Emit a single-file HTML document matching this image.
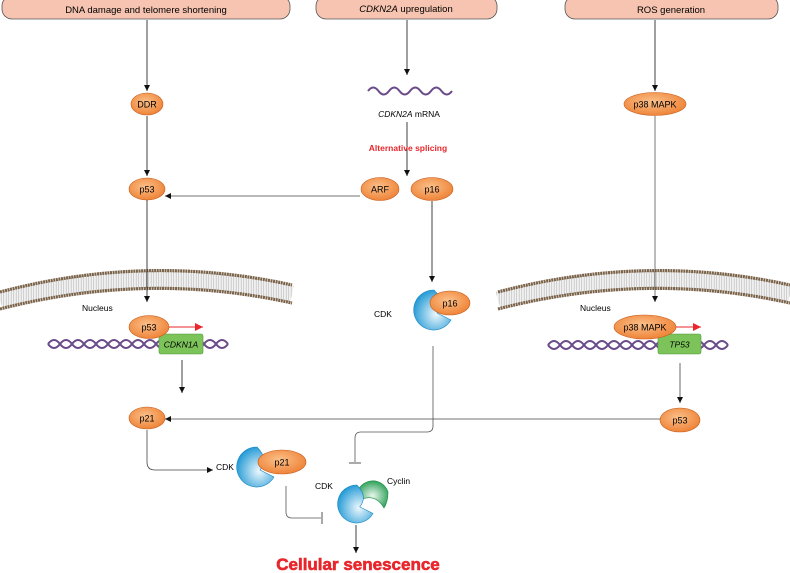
<!DOCTYPE html>
<html><head><meta charset="utf-8"><style>
html,body{margin:0;padding:0;background:#fff;}
svg{display:block;font-family:"Liberation Sans",Arial,sans-serif;}
</style></head><body>
<svg width="790" height="573" viewBox="0 0 790 573" xmlns="http://www.w3.org/2000/svg">
<defs>
<radialGradient id="og" cx="0.45" cy="0.4" r="0.7"><stop offset="0" stop-color="#fbc08a"/><stop offset="1" stop-color="#ec7a2a"/></radialGradient>
<radialGradient id="bg" cx="0.6" cy="0.6" r="0.65"><stop offset="0" stop-color="#eef8fd"/><stop offset="1" stop-color="#1b96d4"/></radialGradient>
<radialGradient id="gg" cx="0.5" cy="0.55" r="0.6"><stop offset="0" stop-color="#eaf7ee"/><stop offset="1" stop-color="#1f9a4c"/></radialGradient>
<marker id="ar" markerWidth="8" markerHeight="8" refX="6" refY="3" orient="auto" markerUnits="userSpaceOnUse"><path d="M0,0 L6,3 L0,6 Z" fill="#111"/></marker>
<marker id="rr" markerWidth="10" markerHeight="10" refX="8" refY="4" orient="auto" markerUnits="userSpaceOnUse"><path d="M0,0 L8,4 L0,8 Z" fill="#e8262b"/></marker>
<pattern id="lip" width="2.5" height="20" patternUnits="userSpaceOnUse"><rect width="2.5" height="20" fill="#f2f2f2"/><line x1="1.2" y1="0" x2="1.2" y2="20" stroke="#bdbdbd" stroke-width="0.7"/></pattern>
<g id="cdk"><path d="M5,3 L19,10 A20,20 0 1 1 2,-20 Q14,-8 5,3 Z" fill="url(#bg)" stroke="#1585c0" stroke-width="0.6"/></g>
<g id="helix"><path d="M0,0 q6,-8 12,0 t12,0 t12,0 t12,0 t12,0 t12,0 t12,0 t12,0 t12,0 t12,0 t12,0 t12,0 t12,0 t12,0 t12,0" fill="none" stroke="#6b4b8a" stroke-width="2"/><path d="M0,0 q6,8 12,0 t12,0 t12,0 t12,0 t12,0 t12,0 t12,0 t12,0 t12,0 t12,0 t12,0 t12,0 t12,0 t12,0 t12,0" fill="none" stroke="#6b4b8a" stroke-width="2"/></g>
</defs>

<!-- top boxes -->
<rect x="2" y="-4" width="288" height="23" rx="10" fill="#f6c4b0" stroke="#555" stroke-width="0.8"/>
<text x="146" y="13" font-size="9.5" text-anchor="middle">DNA damage and telomere shortening</text>
<rect x="316" y="-4" width="181" height="23" rx="10" fill="#f6c4b0" stroke="#555" stroke-width="0.8"/>
<text x="406" y="12" font-size="9.5" text-anchor="middle"><tspan font-style="italic">CDKN2A</tspan> upregulation</text>
<rect x="565" y="-4" width="213" height="23" rx="10" fill="#f6c4b0" stroke="#555" stroke-width="0.8"/>
<text x="671" y="13" font-size="9.5" text-anchor="middle">ROS generation</text>

<!-- membranes -->
<g id="mem">
<path d="M0,300 Q147,262 292,294" fill="none" stroke="url(#lip)" stroke-width="17"/>
<path d="M0,292 Q147,253 292,285" fill="none" stroke="#7a6248" stroke-width="3.2" stroke-dasharray="2 0.6"/>
<path d="M0,309 Q147,271 292,303" fill="none" stroke="#7a6248" stroke-width="3.2" stroke-dasharray="2 0.6"/>
</g>
<use href="#mem" transform="translate(498,0)"/>
<text x="82" y="311" font-size="8.5">Nucleus</text>
<text x="580" y="311" font-size="8.5">Nucleus</text>

<!-- left column -->
<line x1="147" y1="20" x2="147" y2="91" stroke="#111" stroke-width="0.8" marker-end="url(#ar)"/>
<ellipse cx="147" cy="104" rx="16" ry="11" fill="url(#og)" stroke="#c85a1a" stroke-width="0.6"/>
<text x="147" y="107.5" font-size="9" text-anchor="middle">DDR</text>
<line x1="147" y1="116" x2="147" y2="176" stroke="#111" stroke-width="0.8" marker-end="url(#ar)"/>
<ellipse cx="147" cy="189" rx="18" ry="11" fill="url(#og)" stroke="#c85a1a" stroke-width="0.6"/>
<text x="147" y="192.5" font-size="9" text-anchor="middle">p53</text>
<line x1="147" y1="200" x2="147" y2="302" stroke="#111" stroke-width="0.8" marker-end="url(#ar)"/>
<use href="#helix" transform="translate(48,344)"/>
<rect x="159" y="334" width="44" height="20" rx="2" fill="#7cc35a" stroke="#4e9a3a" stroke-width="0.6"/>
<text x="181" y="347.5" font-size="8.5" font-style="italic" text-anchor="middle">CDKN1A</text>
<ellipse cx="149" cy="327" rx="20" ry="11.5" fill="url(#og)" stroke="#c85a1a" stroke-width="0.6"/>
<text x="149" y="330.5" font-size="9" text-anchor="middle">p53</text>
<line x1="169" y1="327" x2="203" y2="327" stroke="#e8262b" stroke-width="1" marker-end="url(#rr)"/>
<line x1="182" y1="360" x2="182" y2="393" stroke="#111" stroke-width="0.8" marker-end="url(#ar)"/>
<ellipse cx="147" cy="418" rx="18" ry="11" fill="url(#og)" stroke="#c85a1a" stroke-width="0.6"/>
<text x="147" y="421.5" font-size="9" text-anchor="middle">p21</text>
<path d="M147,430 L147,462 Q147,470 155,470 L213,470" fill="none" stroke="#444" stroke-width="0.8" marker-end="url(#ar)"/>
<text x="216" y="470" font-size="8.5">CDK</text>
<use href="#cdk" transform="translate(255,467)"/>
<ellipse cx="282" cy="462" rx="24" ry="12" fill="url(#og)" stroke="#c85a1a" stroke-width="0.6"/>
<text x="282" y="465.5" font-size="9" text-anchor="middle">p21</text>
<path d="M286,486 L286,512 Q286,518 292,518 L321,518" fill="none" stroke="#555" stroke-width="0.8"/>
<line x1="322" y1="512" x2="322" y2="524" stroke="#555" stroke-width="1"/>

<!-- center column -->
<line x1="407" y1="20" x2="407" y2="75" stroke="#111" stroke-width="0.8" marker-end="url(#ar)"/>
<path d="M368,91 q5.25,-7 10.5,0 t10.5,0 t10.5,0 t10.5,0 t10.5,0 t10.5,0 t10.5,0 t10.5,0" fill="none" stroke="#6b4b8a" stroke-width="2"/>
<text x="409" y="117" font-size="8.5" text-anchor="middle"><tspan font-style="italic">CDKN2A</tspan> mRNA</text>
<line x1="407" y1="122" x2="407" y2="176" stroke="#111" stroke-width="0.8" marker-end="url(#ar)"/>
<text x="408" y="151" font-size="8.5" font-weight="bold" fill="#e8262b" text-anchor="middle">Alternative splicing</text>
<ellipse cx="380" cy="189" rx="19" ry="11.5" fill="url(#og)" stroke="#c85a1a" stroke-width="0.6"/>
<text x="380" y="192.5" font-size="9" text-anchor="middle">ARF</text>
<ellipse cx="432" cy="189" rx="21" ry="11.5" fill="url(#og)" stroke="#c85a1a" stroke-width="0.6"/>
<text x="432" y="192.5" font-size="9" text-anchor="middle">p16</text>
<line x1="360" y1="196" x2="165" y2="196" stroke="#444" stroke-width="0.8" marker-end="url(#ar)"/>
<line x1="432" y1="201" x2="432" y2="282" stroke="#111" stroke-width="0.8" marker-end="url(#ar)"/>
<text x="374" y="317" font-size="8.5">CDK</text>
<use href="#cdk" transform="translate(432,310)"/>
<ellipse cx="450" cy="303" rx="20" ry="12" fill="url(#og)" stroke="#c85a1a" stroke-width="0.6"/>
<text x="450" y="306.5" font-size="9" text-anchor="middle">p16</text>
<path d="M433,346 L433,426 Q433,432 427,432 L361,432 Q355,432 355,438 L355,462" fill="none" stroke="#555" stroke-width="0.8"/>
<line x1="349" y1="463" x2="361" y2="463" stroke="#555" stroke-width="1"/>

<!-- CDK cyclin -->
<path d="M357,494 A16,16 0 0 1 388,492 Q388,502 384,508 Q376,494 362,499 Z" fill="url(#gg)" stroke="#1a8a40" stroke-width="0.6"/>
<use href="#cdk" transform="translate(355,504) scale(0.95)"/>
<text x="315" y="489" font-size="8.5">CDK</text>
<text x="387" y="484" font-size="8.5">Cyclin</text>
<line x1="356" y1="525" x2="356" y2="553" stroke="#111" stroke-width="0.8" marker-end="url(#ar)"/>
<text x="358" y="570" font-size="17" font-weight="bold" fill="#e8262b" text-anchor="middle" stroke="#e8262b" stroke-width="0.6">Cellular senescence</text>

<!-- right column -->
<line x1="655" y1="20" x2="655" y2="91" stroke="#111" stroke-width="0.8" marker-end="url(#ar)"/>
<ellipse cx="655" cy="104" rx="31" ry="11.5" fill="url(#og)" stroke="#c85a1a" stroke-width="0.6"/>
<text x="655" y="107.5" font-size="9" text-anchor="middle">p38 MAPK</text>
<line x1="655" y1="116" x2="655" y2="302" stroke="#555" stroke-width="0.8" marker-end="url(#ar)"/>
<use href="#helix" transform="translate(548,345)"/>
<rect x="658" y="334" width="43" height="20" rx="2" fill="#7cc35a" stroke="#4e9a3a" stroke-width="0.6"/>
<text x="679.5" y="347.5" font-size="8.5" font-style="italic" text-anchor="middle">TP53</text>
<ellipse cx="645" cy="327" rx="31" ry="12" fill="url(#og)" stroke="#c85a1a" stroke-width="0.6"/>
<text x="645" y="330.5" font-size="9" text-anchor="middle">p38 MAPK</text>
<line x1="676" y1="327" x2="701" y2="327" stroke="#e8262b" stroke-width="1" marker-end="url(#rr)"/>
<line x1="680" y1="363" x2="680" y2="403" stroke="#444" stroke-width="0.8" marker-end="url(#ar)"/>
<ellipse cx="680" cy="420" rx="20" ry="12" fill="url(#og)" stroke="#c85a1a" stroke-width="0.6"/>
<text x="680" y="423.5" font-size="9" text-anchor="middle">p53</text>
<line x1="660" y1="419" x2="165" y2="419" stroke="#444" stroke-width="0.8" marker-end="url(#ar)"/>
</svg>
</body></html>
